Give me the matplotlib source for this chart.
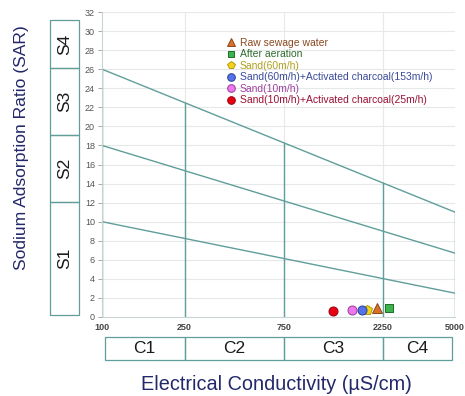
import matplotlib
matplotlib.use("Agg")
import matplotlib.pyplot as plt
import numpy as np
from matplotlib.patches import Rectangle
from matplotlib.transforms import blended_transform_factory
from matplotlib.lines import Line2D

plt.rcParams['font.family'] = ['Liberation Sans', 'DejaVu Sans']

# ---- data ----
ec_ticks = [100, 250, 750, 2250, 5000]
sar_ticks = list(range(0, 33, 2))
# classification boundary lines (SAR at EC=100 and EC=5000)
line_sar_start = [10, 18, 26]
line_sar_end = [2.5, 6.7, 11.0]
c_classes = ["C1", "C2", "C3", "C4"]
s_classes = ["S1", "S2", "S3", "S4"]

samples = ["Raw sewage water", "After aeration", "Sand(60m/h)",
           "Sand(60m/h)+Activated charcoal(153m/h)", "Sand(10m/h)",
           "Sand(10m/h)+Activated charcoal(25m/h)"]
sample_ec = [2100, 2400, 1890, 1790, 1600, 1300]
sample_sar = [0.98, 0.90, 0.72, 0.72, 0.72, 0.63]
markers = ["^", "s", "p", "o", "o", "o"]
msizes = [6.5, 5.2, 7.0, 6.5, 6.5, 6.5]
face_colors = ["#d9702a", "#3cb44b", "#f2d21b", "#5572e6", "#ee77ee", "#e60012"]
edge_colors = ["#8a4a1a", "#1f6b2a", "#b89a10", "#2a3e9a", "#9a3a9a", "#9a0010"]
text_colors = ["#8a4a20", "#2e6b2e", "#b0a020", "#3a4a9a", "#a040a0", "#9a1035"]

teal = "#5f9e9a"
grid_c = "#e6e9e9"

fig = plt.figure(figsize=(4.65, 3.96), dpi=100)
ax = fig.add_axes([102/465, 1-317/396, 353/465, 305/396])
ax.set_xscale('log')
ax.set_xlim(100, 5000)
ax.set_ylim(0, 32)

# grid
for y in sar_ticks[1:]:
    ax.axhline(y, color=grid_c, lw=0.8, zorder=0)
for x in ec_ticks[1:-1]:
    ax.axvline(x, color=grid_c, lw=0.8, zorder=0)

# boundary lines (straight in log-EC)
lx0, lx1 = np.log10(ec_ticks[0]), np.log10(ec_ticks[-1])
def line_val(i, x):
    t = (np.log10(x) - lx0) / (lx1 - lx0)
    return line_sar_start[i] + t * (line_sar_end[i] - line_sar_start[i])

xs = np.array([ec_ticks[0], ec_ticks[-1]])
for i in range(3):
    ax.plot(xs, [line_sar_start[i], line_sar_end[i]], color=teal, lw=1.0, zorder=2)
for x in ec_ticks:
    ax.plot([x, x], [0, line_val(2, x)], color=teal, lw=1.0, zorder=2)

# markers
handles = []
for i in range(len(samples)):
    ax.plot(sample_ec[i], sample_sar[i], marker=markers[i], ms=msizes[i],
            mfc=face_colors[i], mec=edge_colors[i], mew=0.7, ls='none', zorder=5,
            clip_on=False)
    handles.append(Line2D([], [], marker=markers[i], ms=msizes[i]*0.85,
                          mfc=face_colors[i], mec=edge_colors[i], mew=0.7, ls='none'))

leg = ax.legend(handles, samples, loc='upper left',
                bbox_to_anchor=((226-102)/353, (317-38)/305),
                frameon=False, fontsize=7.5, handlelength=0.9, handletextpad=0.45,
                labelspacing=0.14, borderaxespad=0, borderpad=0)
for t, c in zip(leg.get_texts(), text_colors):
    t.set_color(c)

# axes styling
for s in ['top', 'right']:
    ax.spines[s].set_visible(False)
ax.spines['left'].set_color('#c8d4d4')
ax.spines['bottom'].set_color('#c8d4d4')
ax.set_yticks(sar_ticks)
ax.set_yticklabels([str(v) for v in sar_ticks], fontsize=6.5, color='#555555')
ax.set_xticks(ec_ticks)
ax.set_xticklabels([str(v) for v in ec_ticks], fontsize=6.5, color='#444444',
                   fontweight='bold')
ax.xaxis.set_minor_locator(matplotlib.ticker.NullLocator())
ax.tick_params(axis='y', length=3, width=0.6, color='#999999', pad=2)
ax.tick_params(axis='x', length=0, pad=4)

# C class boxes
trC = blended_transform_factory(ax.transData, ax.transAxes)
yb0, yb1 = (317-360)/305, (317-337)/305
bounds = [103, 250, 750, 2250, 4850]
for i in range(4):
    r = Rectangle((bounds[i], yb0), bounds[i+1]-bounds[i], yb1-yb0, transform=trC,
                  fill=False, ec=teal, lw=0.9, clip_on=False)
    ax.add_patch(r)
    xc = 10**((np.log10(bounds[i]) + np.log10(bounds[i+1]))/2)
    ax.text(xc, (yb0+yb1)/2, c_classes[i], transform=trC, ha='center', va='center',
            fontsize=12.5, color='#1a1a1a')

# S class boxes
trS = blended_transform_factory(ax.transAxes, ax.transData)
xs0, xs1 = (50-102)/353, (79-102)/353
sb = [0.2, 12.1, 19.1, 26.1, 31.2]
for i in range(4):
    r = Rectangle((xs0, sb[i]), xs1-xs0, sb[i+1]-sb[i], transform=trS,
                  fill=False, ec=teal, lw=0.9, clip_on=False)
    ax.add_patch(r)
    ax.text((xs0+xs1)/2, (sb[i]+sb[i+1])/2, s_classes[i], transform=trS,
            ha='center', va='center', rotation=90, fontsize=12.5, color='#1a1a1a')

fig.text(276/465, 1-384/396, "Electrical Conductivity (µS/cm)", ha='center',
         va='center', fontsize=14.3, color='#22286a')
fig.text(22/465, 1-148/396, "Sodium Adsorption Ratio (SAR)", ha='center',
         va='center', rotation=90, fontsize=12.6, color='#22286a')

fig.savefig("out.png", dpi=100)
